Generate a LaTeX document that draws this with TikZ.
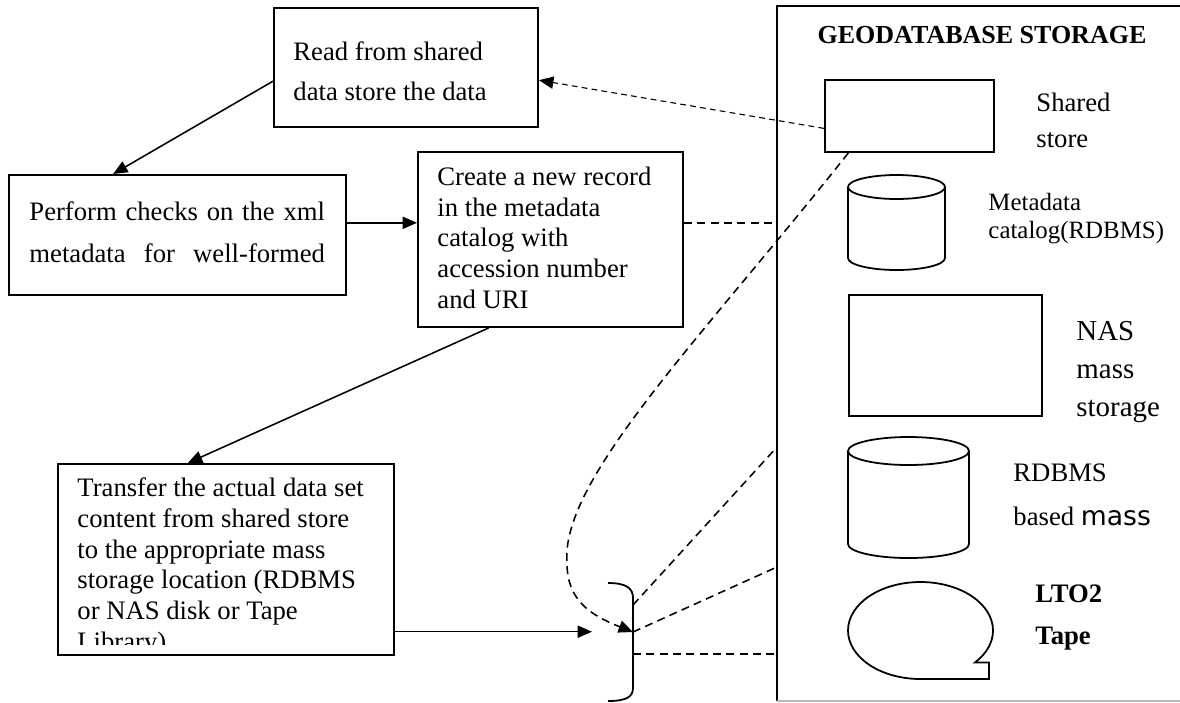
\documentclass[tikz,border=0pt]{standalone}
\usepackage{fontspec}
\setmainfont{Liberation Serif}
\newfontfamily\dejavu{DejaVu Sans}
\usetikzlibrary{arrows.meta,calc}
\begin{document}
\begin{tikzpicture}[x=0.45pt,y=-0.45pt,
  box/.style={draw, line width=0.9pt, inner sep=0pt, anchor=north west},
  shp/.style={draw, line width=0.8pt},
  txt/.style={anchor=base west, align=left, inner sep=0pt},
  arr/.style={line width=0.7pt, -{Triangle[length=6.5pt,width=5.5pt]}},
  dsh/.style={line width=0.7pt, dash pattern=on 3.6pt off 2.4pt},
  dshthin/.style={line width=0.5pt, dash pattern=on 2.6pt off 1.9pt},
]
\useasboundingbox (0,0) rectangle (1180,702);
\clip (0,0) rectangle (1180,702);

% ---------- storage frame ----------
\node[inner sep=0pt, minimum width={430*0.45pt}, minimum height={694*0.45pt}, anchor=north west] (G) at (777,6) {};
\draw[line width=0.9pt] (G.south west) -- (G.north west) -- (G.north east);
\draw[gray!55, line width=0.8pt] (G.south west) -- (G.south east);
\node[anchor=base, inner sep=0pt, font=\bfseries\fontsize{11.7}{14}\selectfont] (title) at (982,43) {GEODATABASE STORAGE};

% shared store
\node[box, minimum width={169*0.45pt}, minimum height={72*0.45pt}] (S) at (824,79) {};
\node[txt, font=\fontsize{12}{15.8}\selectfont] (Slab) at (1036,147) {Shared\\store};

% metadata cylinder
\draw[shp] (848,187) -- (848,258) arc[start angle=180, end angle=0, x radius=48.5, y radius=12] -- (945,187);
\draw[shp] (896.5,187) ellipse [x radius=48.5, y radius=12];
\node[txt, font=\fontsize{11.2}{12.4}\selectfont] (Mlab) at (988,238) {Metadata\\catalog(RDBMS)};

% NAS
\node[box, minimum width={193*0.45pt}, minimum height={121*0.45pt}] (N) at (848,294) {};
\node[txt, font=\fontsize{13}{17.1}\selectfont] (Nlab) at (1076,416) {NAS\\mass\\storage};

% RDBMS cylinder
\draw[shp] (848,451) -- (848,544) arc[start angle=180, end angle=0, x radius=60.5, y radius=14] -- (969,451);
\draw[shp] (908.5,451) ellipse [x radius=60.5, y radius=14];
\node[txt, font=\fontsize{12}{19.4}\selectfont] (Dlab) at (1013,525) {RDBMS\\based {\dejavu mass}};

% tape
\draw[shp] (920.5,679) arc[start angle=90, end angle=401.2, x radius=72.5, y radius=48.5] -- (989,662.5) -- (989,679) -- cycle;
\node[txt, font=\bfseries\fontsize{12}{18.9}\selectfont] (Tlab) at (1035,644) {LTO2\\Tape};

% ---------- process boxes ----------
\node[box, minimum width={264*0.45pt}, minimum height={119*0.45pt}] (R) at (273,7) {};
\node[txt, font=\fontsize{12}{18}\selectfont] (Rt) at (293,100) {Read from shared\\data store the data};

\node[box, minimum width={337*0.45pt}, minimum height={120*0.45pt}] (P) at (8,174) {};
\node[txt, font=\fontsize{12}{18.9}\selectfont] (Pt) at (29,262) {\hbox to 133pt{Perform checks on the xml}\\\hbox to 133pt{metadata\hfill for\hfill well-formed}};

\node[box, minimum width={265*0.45pt}, minimum height={175*0.45pt}] (C) at (417,151) {};
\node[txt, font=\fontsize{12}{13.8}\selectfont] (Ct) at (437,308) {Create a new record\\in the metadata\\catalog with\\accession number\\and URI};

\node[box, minimum width={336*0.45pt}, minimum height={191*0.45pt}] (T) at (57,463) {};
\begin{scope}
  \clip (57,463) rectangle (393,644);
  \node[txt, font=\fontsize{12}{13.8}\selectfont] (Tt) at (77,650) {Transfer the actual data set\\content from shared store\\to the appropriate mass\\storage location (RDBMS\\or NAS disk or Tape\\Library)};
\end{scope}

% bracket
\draw[line width=0.8pt] (608,583) .. controls (626,583) and (633,588) .. (633,598) -- (633,688) .. controls (633,697) and (626,701) .. (608,701);
\coordinate (b0) at (633,605);
\coordinate (b1) at (633,632);
\coordinate (b2) at (633,654);
\coordinate (g0) at (777,447);
\coordinate (g1) at (777,567);
\coordinate (tb) at (592,630);

% ---------- connectors ----------
\draw[arr] ($(R.north west)!0.613!(R.south west)$) -- ($(P.north west)!0.31!(P.north east)$);
\coordinate (pc) at ($(P.north east)!0.4!(P.south east)$);
\draw[arr] (pc) -- (pc -| C.west);
\draw[arr] ($(C.south west)!0.268!(C.south east)$) -- ($(T.north west)!0.387!(T.north east)$);
\coordinate (te) at ($(T.north east)!0.874!(T.south east)$);
\draw[arr] (te) -- (te -| tb);

\draw[dshthin, -{Triangle[length=6.5pt,width=5.5pt]}] ($(S.north west)!0.667!(S.south west)$) -- ($(R.north east)!0.605!(R.south east)$);
\coordinate (ce) at ($(C.north east)!0.406!(C.south east)$);
\draw[dsh] (ce) -- (ce -| G.west);
\draw[dsh, -{Triangle[length=6.5pt,width=5.5pt]}] ($(S.south west)!0.142!(S.south east)$) .. controls (700,340) and (560,480) .. (567,563) .. controls (567,600) and (590,615) .. (b1);
\draw[dsh] (b0) -- (g0);
\draw[dsh] (b1) -- (g1);
\draw[dsh] (b2) -- (b2 -| G.west);
\end{tikzpicture}
\end{document}
